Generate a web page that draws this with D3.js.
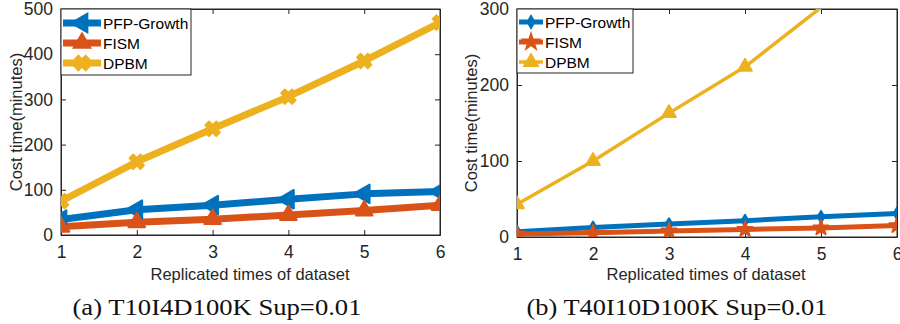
<!DOCTYPE html>
<html>
<head>
<meta charset="utf-8">
<script src="https://cdn.jsdelivr.net/npm/d3@7"></script>
<style>
  body { margin: 0; background: #fff; }
  svg { display: block; }
</style>
</head>
<body>
<svg id="chart" width="900" height="324"></svg>
<script>
// data
const xTimes = [1, 2, 3, 4, 5, 6];
const seriesNames = ["PFP-Growth", "FISM", "DPBM"];
const colors = ["#0072BD", "#D95319", "#EDB120"];

const leftPfp = [34, 56, 66, 79, 91, 96];
const leftFism = [18, 28, 35, 44, 54, 66];
const leftDpbm = [75, 162, 235, 306, 385, 470];
const leftYTicks = [0, 100, 200, 300, 400, 500];

const rightPfp = [7, 12.5, 17, 21.5, 26.5, 31];
const rightFism = [4, 5.5, 8, 10, 12, 15];
const rightDpbm = [43, 100, 163, 224, 302, 378];
const rightYTicks = [0, 100, 200, 300];

const captions = ["(a) T10I4D100K Sup=0.01", "(b) T40I10D100K Sup=0.01"];

const svg = d3.select("#chart");
const axisColor = "#262626";
const sans = "'Liberation Sans', Arial, sans-serif";

const panels = [
  {
    id: "a", x0: 61, x1: 440, y0: 235, y1: 9, yMax: 500, yTicks: leftYTicks,
    data: [leftPfp, leftFism, leftDpbm],
    widths: [7, 7, 7],
    markers: ["triLeft", "triUp", "x"],
    legend: { x: 61, y: 9, w: 130, h: 66, lineEnd: 101, rows: [23, 43, 63] },
    caption: captions[0], capX: 217, capW: 289, xLabelX: 250, yLabelX: 16
  },
  {
    id: "b", x0: 517, x1: 897, y0: 237, y1: 9, yMax: 300, yTicks: rightYTicks,
    data: [rightPfp, rightFism, rightDpbm],
    widths: [5, 5, 3.5],
    markers: ["diamond", "star", "triUpSmall"],
    legend: { x: 517, y: 9, w: 116, h: 64, lineEnd: 543, rows: [22, 42, 62] },
    caption: captions[1], capX: 677, capW: 301, xLabelX: 706, yLabelX: 471
  }
];

function markerPath(kind) {
  switch (kind) {
    case "triLeft": return d3.symbol(d3.symbolTriangle, 150)();
    case "triUp": return d3.symbol(d3.symbolTriangle, 120)();
    case "x": return d3.symbol(d3.symbolCross, 130)();
    case "diamond": return d3.symbol(d3.symbolDiamond, 40)();
    case "star": return d3.symbol(d3.symbolStar, 70)();
    case "triUpSmall": return d3.symbol(d3.symbolTriangle, 80)();
  }
}
function markerRotate(kind) {
  if (kind === "triLeft") return 30;   // pointing left
  if (kind === "x") return 45;
  return 0;
}

panels.forEach(p => {
  const x = d3.scaleLinear().domain([1, 6]).range([p.x0, p.x1]);
  const y = d3.scaleLinear().domain([0, p.yMax]).range([p.y0, p.y1]);
  const g = svg.append("g");

  svg.append("clipPath").attr("id", "clip-" + p.id)
    .append("rect")
    .attr("x", p.x0).attr("y", p.y1)
    .attr("width", p.x1 - p.x0).attr("height", p.y0 - p.y1);

  // box
  g.append("rect")
    .attr("x", p.x0).attr("y", p.y1)
    .attr("width", p.x1 - p.x0).attr("height", p.y0 - p.y1)
    .attr("fill", "none").attr("stroke", axisColor).attr("stroke-width", 1);

  // axes with inner ticks
  const xAxis = g.append("g").attr("transform", `translate(0,${p.y0})`)
    .call(d3.axisBottom(x).tickValues(xTimes).tickFormat(d3.format("d"))
      .tickSizeInner(-5).tickSizeOuter(0).tickPadding(11));
  const xTop = g.append("g").attr("transform", `translate(0,${p.y1})`)
    .call(d3.axisTop(x).tickValues(xTimes).tickSizeInner(-5).tickSizeOuter(0).tickFormat(""));
  const yAxis = g.append("g").attr("transform", `translate(${p.x0},0)`)
    .call(d3.axisLeft(y).tickValues(p.yTicks).tickFormat(d3.format("d"))
      .tickSizeInner(-5).tickSizeOuter(0).tickPadding(8));
  const yRight = g.append("g").attr("transform", `translate(${p.x1},0)`)
    .call(d3.axisRight(y).tickValues(p.yTicks).tickSizeInner(-5).tickSizeOuter(0).tickFormat(""));
  [xAxis, xTop, yAxis, yRight].forEach(a => {
    a.select(".domain").attr("stroke", axisColor);
    a.selectAll(".tick line").attr("stroke", axisColor);
    a.selectAll("text").attr("fill", axisColor).style("font-family", sans).style("font-size", "17.5px");
  });

  // axis labels
  g.append("text")
    .attr("x", p.xLabelX).attr("y", 280)
    .attr("text-anchor", "middle")
    .style("font-family", sans).style("font-size", "16.5px")
    .attr("fill", axisColor)
    .text("Replicated times of dataset");
  g.append("text")
    .attr("transform", `translate(${p.yLabelX},${(p.y0 + p.y1) / 2}) rotate(-90)`)
    .attr("dy", "0.35em")
    .attr("text-anchor", "middle")
    .style("font-family", sans).style("font-size", "16.5px")
    .attr("fill", axisColor)
    .text("Cost time(minutes)");

  // caption
  g.append("text")
    .attr("x", p.capX).attr("y", 315)
    .attr("text-anchor", "middle")
    .attr("textLength", p.capW).attr("lengthAdjust", "spacingAndGlyphs")
    .style("font-family", "'Liberation Serif', 'DejaVu Serif', serif")
    .style("font-size", "23px")
    .attr("fill", "#111")
    .text(p.caption);

  // series
  const plot = g.append("g").attr("clip-path", `url(#clip-${p.id})`);
  const line = d3.line().x((d, i) => x(xTimes[i])).y(d => y(d));
  p.data.forEach((vals, si) => {
    plot.append("path")
      .datum(vals)
      .attr("d", line)
      .attr("fill", "none")
      .attr("stroke", colors[si])
      .attr("stroke-width", p.widths[si])
      .attr("stroke-linejoin", "round");
  });
  p.data.forEach((vals, si) => {
    const kind = p.markers[si];
    plot.selectAll(null)
      .data(vals.map((v, i) => ({ x: xTimes[i], v })).filter(d => d.v <= p.yMax))
      .enter().append("path")
      .attr("d", markerPath(kind))
      .attr("transform", d => `translate(${x(d.x)},${y(d.v)}) rotate(${markerRotate(kind)})`)
      .attr("fill", colors[si])
      .attr("stroke", colors[si])
      .attr("stroke-width", 2)
      .attr("stroke-linejoin", "round");
  });

  // legend
  const L = p.legend;
  const leg = g.append("g");
  leg.append("rect")
    .attr("x", L.x).attr("y", L.y).attr("width", L.w).attr("height", L.h)
    .attr("fill", "#fff").attr("stroke", axisColor).attr("stroke-width", 1);
  seriesNames.forEach((name, si) => {
    const ry = L.rows[si];
    const x0 = L.x + 2, x1 = L.lineEnd;
    leg.append("line")
      .attr("x1", x0).attr("x2", x1).attr("y1", ry).attr("y2", ry)
      .attr("stroke", colors[si]).attr("stroke-width", p.widths[si]);
    const kind = p.markers[si];
    leg.append("path")
      .attr("d", markerPath(kind))
      .attr("transform", `translate(${(x0 + x1) / 2},${ry}) rotate(${markerRotate(kind)})`)
      .attr("fill", colors[si]).attr("stroke", colors[si]).attr("stroke-width", 2);
    leg.append("text")
      .attr("x", x1 + 2).attr("y", ry + 5.5)
      .style("font-family", sans).style("font-size", "15.5px")
      .attr("fill", "#000")
      .text(name);
  });
});
</script>
</body>
</html>
